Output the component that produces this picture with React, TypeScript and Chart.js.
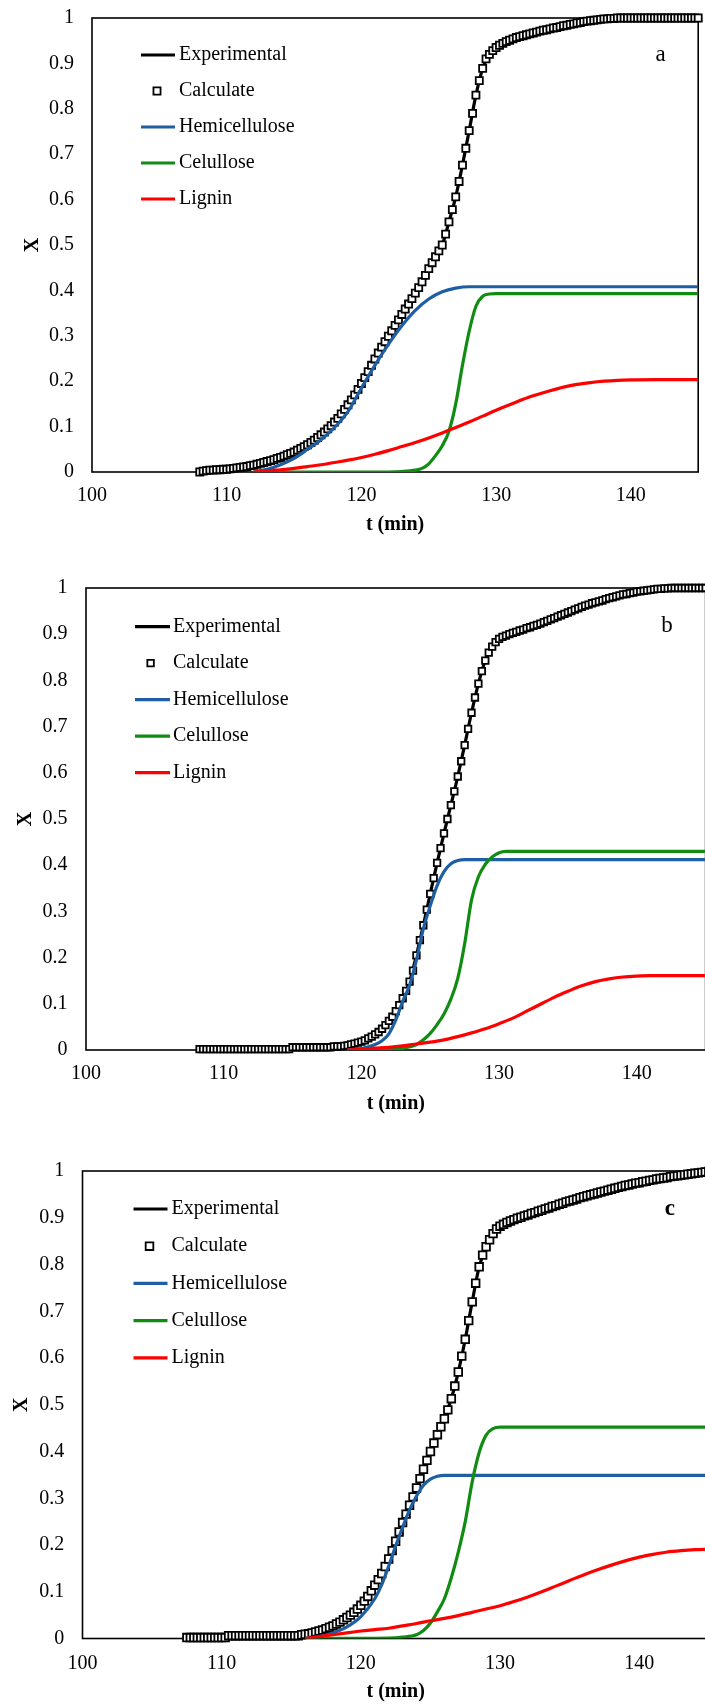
import React, { useEffect, useRef } from "react";
import { Chart, registerables } from "chart.js";

Chart.register(...registerables);

const FONT = '"Liberation Serif", "Times New Roman", serif';

// ---------- shared ----------
const X_TICKS = [100, 110, 120, 130, 140];
const Y_TICKS = [0, 0.1, 0.2, 0.3, 0.4, 0.5, 0.6, 0.7, 0.8, 0.9, 1];
const SERIES_LABELS = ["Experimental", "Calculate", "Hemicellulose", "Celullose", "Lignin"];
const COLOR_EXP = "#000000";
const COLOR_HEMI = "#1E5FA3";
const COLOR_CEL = "#108C12";
const COLOR_LIG = "#FF0000";
const CALC_STEP = 0.25;
const EXP_STEP = 0.5;

// ---------- panel a ----------
const A_CALC_START = 108;
const A_CALC = [
  0.000, 0.002, 0.003, 0.004,
  0.004, 0.005, 0.005, 0.006,
  0.006, 0.007, 0.008, 0.009,
  0.010, 0.011, 0.012, 0.014,
  0.015, 0.017, 0.019, 0.021,
  0.023, 0.025, 0.027, 0.030,
  0.032, 0.035, 0.038, 0.041,
  0.044, 0.048, 0.052, 0.056,
  0.060, 0.065, 0.070, 0.076,
  0.082, 0.088, 0.095, 0.102,
  0.110, 0.118, 0.128, 0.138,
  0.148, 0.159, 0.170, 0.182,
  0.195, 0.208, 0.221, 0.235,
  0.249, 0.262, 0.275, 0.287,
  0.299, 0.311, 0.323, 0.335,
  0.347, 0.359, 0.370, 0.382,
  0.394, 0.406, 0.419, 0.433,
  0.448, 0.461, 0.474, 0.487,
  0.500, 0.524, 0.551, 0.578,
  0.606, 0.640, 0.676, 0.713,
  0.752, 0.790, 0.830, 0.862,
  0.889, 0.910, 0.920, 0.928,
  0.935, 0.940, 0.944, 0.948,
  0.951, 0.954, 0.957, 0.959,
  0.961, 0.963, 0.965, 0.967,
  0.969, 0.971, 0.973, 0.974,
  0.976, 0.978, 0.979, 0.981,
  0.983, 0.984, 0.986, 0.987,
  0.989, 0.990, 0.992, 0.993,
  0.994, 0.995, 0.996, 0.997,
  0.998, 0.998, 0.999, 0.999,
  1, 1, 1, 1,
  1, 1, 1, 1,
  1, 1, 1, 1,
  1, 1, 1, 1,
  1, 1, 1, 1,
  1, 1, 1, 1,
  1,
];
const A_EXP_START = 108;
const A_EXP = [
  0.000, 0.003, 0.004, 0.005, 0.006, 0.008, 0.010, 0.012, 0.015, 0.019,
  0.023, 0.027, 0.032, 0.038, 0.044, 0.052, 0.060, 0.070, 0.082, 0.095,
  0.110, 0.128, 0.148, 0.170, 0.195, 0.221, 0.249, 0.275, 0.299, 0.323,
  0.347, 0.370, 0.394, 0.419, 0.448, 0.474, 0.500, 0.551, 0.606, 0.676,
  0.752, 0.830, 0.889, 0.920, 0.935, 0.944, 0.951, 0.957, 0.961, 0.965,
  0.969, 0.973, 0.976, 0.979, 0.983, 0.986, 0.989, 0.992, 0.994, 0.996,
  0.998, 0.999, 1, 1, 1, 1, 1, 1, 1, 1, 1, 1, 1, 1, 1,
];
const A_HEMI_T = [112, 113, 114, 115, 116, 117, 118, 119, 120, 121, 122, 123, 124, 125, 126, 127, 128, 130, 145];
const A_HEMI = [0, 0.006, 0.016, 0.030, 0.050, 0.071, 0.098, 0.133, 0.185, 0.235, 0.281, 0.322, 0.356, 0.381, 0.397, 0.405, 0.408, 0.408, 0.408];
const A_CEL_T = [112, 118, 122, 123, 124, 124.5, 125, 125.5, 126, 126.5, 127, 127.5, 128, 128.5, 129, 129.5, 130, 145];
const A_CEL = [0, 0, 0, 0.001, 0.004, 0.008, 0.018, 0.036, 0.058, 0.090, 0.150, 0.235, 0.310, 0.365, 0.387, 0.392, 0.393, 0.393];
const A_LIG_T = [112, 113, 114, 115, 116, 117, 118, 119, 120, 121, 122, 123, 124, 125, 126, 127, 128, 129, 130, 131, 132, 133, 134, 135, 136, 137, 138, 139, 140, 142, 145];
const A_LIG = [0, 0.002, 0.005, 0.008, 0.012, 0.016, 0.021, 0.026, 0.032, 0.039, 0.047, 0.056, 0.065, 0.075, 0.086, 0.098, 0.110, 0.123, 0.136, 0.148, 0.160, 0.170, 0.179, 0.187, 0.193, 0.197, 0.200, 0.202, 0.203, 0.2035, 0.2035];

// ---------- panel b ----------
const B_CALC_START = 108.25;
const B_CALC = [
  0.002, 0.002, 0.002,
  0.002, 0.002, 0.002, 0.002,
  0.002, 0.002, 0.002, 0.002,
  0.002, 0.002, 0.002, 0.002,
  0.002, 0.002, 0.002, 0.002,
  0.002, 0.002, 0.002, 0.002,
  0.002, 0.002, 0.002, 0.002,
  0.006, 0.006, 0.006, 0.006,
  0.006, 0.006, 0.006, 0.006,
  0.006, 0.006, 0.006, 0.006,
  0.008, 0.008, 0.008, 0.009,
  0.010, 0.012, 0.014, 0.016,
  0.018, 0.021, 0.025, 0.029,
  0.034, 0.039, 0.046, 0.054,
  0.063, 0.072, 0.084, 0.097,
  0.112, 0.128, 0.148, 0.172,
  0.205, 0.238, 0.270, 0.304,
  0.338, 0.372, 0.405, 0.437,
  0.469, 0.500, 0.530, 0.560,
  0.592, 0.625, 0.660, 0.695,
  0.730, 0.763, 0.793, 0.820,
  0.843, 0.860, 0.873, 0.883,
  0.890, 0.894, 0.897, 0.900,
  0.903, 0.905, 0.908, 0.910,
  0.913, 0.915, 0.918, 0.920,
  0.923, 0.926, 0.929, 0.932,
  0.935, 0.938, 0.941, 0.944,
  0.947, 0.950, 0.953, 0.956,
  0.959, 0.962, 0.964, 0.967,
  0.969, 0.971, 0.973, 0.976,
  0.978, 0.980, 0.982, 0.984,
  0.986, 0.987, 0.989, 0.990,
  0.992, 0.993, 0.994, 0.995,
  0.996, 0.997, 0.998, 0.998,
  0.999, 0.999, 1, 1,
  1, 1, 1, 1,
  1, 1, 1, 1,
  1,
];
const B_EXP_START = 108.5;
const B_EXP = [
  0.002, 0.002, 0.002, 0.002, 0.002, 0.002, 0.002, 0.002, 0.002, 0.002,
  0.002, 0.002, 0.002, 0.006, 0.006, 0.006, 0.006, 0.006, 0.006, 0.008,
  0.008, 0.010, 0.014, 0.018, 0.025, 0.034, 0.046, 0.063, 0.084, 0.112,
  0.148, 0.205, 0.270, 0.338, 0.405, 0.469, 0.530, 0.592, 0.660, 0.730,
  0.793, 0.843, 0.873, 0.890, 0.897, 0.903, 0.908, 0.913, 0.918, 0.923,
  0.929, 0.935, 0.941, 0.947, 0.953, 0.959, 0.964, 0.969, 0.973, 0.978,
  0.982, 0.986, 0.989, 0.992, 0.994, 0.996, 0.998, 0.999, 1, 1,
  1, 1, 1, 1,
];
const B_HEMI_T = [119, 120, 121, 121.5, 122, 122.5, 123, 123.5, 124, 124.5, 125, 125.5, 126, 126.5, 127, 127.5, 145];
const B_HEMI = [0, 0.003, 0.012, 0.020, 0.035, 0.065, 0.105, 0.140, 0.195, 0.262, 0.312, 0.356, 0.386, 0.403, 0.410, 0.412, 0.412];
const B_CEL_T = [119, 122, 123, 124, 124.5, 125, 125.5, 126, 126.5, 127, 127.5, 128, 128.5, 129, 129.5, 130, 130.5, 145];
const B_CEL = [0, 0.001, 0.004, 0.012, 0.022, 0.036, 0.055, 0.078, 0.110, 0.155, 0.230, 0.325, 0.375, 0.402, 0.418, 0.427, 0.430, 0.430];
const B_LIG_T = [119, 120, 121, 122, 123, 124, 125, 126, 127, 128, 129, 130, 131, 132, 133, 134, 135, 136, 137, 138, 139, 140, 141, 145];
const B_LIG = [0, 0.002, 0.004, 0.006, 0.009, 0.013, 0.017, 0.022, 0.029, 0.037, 0.046, 0.057, 0.069, 0.084, 0.099, 0.114, 0.127, 0.139, 0.148, 0.154, 0.158, 0.160, 0.161, 0.161];

// ---------- panel c ----------
const C_CALC_START = 107.5;
const C_CALC = [
  0.002, 0.002,
  0.002, 0.002, 0.002, 0.002,
  0.002, 0.002, 0.002, 0.002,
  0.002, 0.002, 0.006, 0.006,
  0.006, 0.006, 0.006, 0.006,
  0.006, 0.006, 0.006, 0.006,
  0.006, 0.006, 0.006, 0.006,
  0.006, 0.006, 0.006, 0.006,
  0.006, 0.006, 0.006, 0.008,
  0.009, 0.010, 0.012, 0.014,
  0.016, 0.018, 0.021, 0.024,
  0.027, 0.031, 0.035, 0.040,
  0.045, 0.050, 0.056, 0.063,
  0.071, 0.080, 0.090, 0.102,
  0.114, 0.126, 0.139, 0.154,
  0.170, 0.188, 0.208, 0.228,
  0.248, 0.266, 0.285, 0.303,
  0.322, 0.342, 0.362, 0.381,
  0.400, 0.418, 0.436, 0.453,
  0.470, 0.489, 0.513, 0.540,
  0.570, 0.604, 0.640, 0.680,
  0.720, 0.760, 0.795, 0.820,
  0.838, 0.853, 0.866, 0.876,
  0.882, 0.886, 0.890, 0.893,
  0.896, 0.899, 0.901, 0.904,
  0.906, 0.909, 0.911, 0.914,
  0.916, 0.919, 0.921, 0.924,
  0.926, 0.929, 0.931, 0.934,
  0.936, 0.938, 0.940, 0.943,
  0.945, 0.947, 0.949, 0.951,
  0.953, 0.955, 0.957, 0.959,
  0.961, 0.963, 0.965, 0.967,
  0.969, 0.970, 0.972, 0.974,
  0.975, 0.977, 0.978, 0.980,
  0.981, 0.983, 0.984, 0.985,
  0.986, 0.988, 0.989, 0.990,
  0.991, 0.992, 0.993, 0.994,
  0.995, 0.996, 0.997, 0.998,
  0.999,
];
const C_EXP_START = 107.5;
const C_EXP = [
  0.002, 0.002, 0.002, 0.002, 0.002, 0.002, 0.006, 0.006, 0.006, 0.006,
  0.006, 0.006, 0.006, 0.006, 0.006, 0.006, 0.006, 0.009, 0.012, 0.016,
  0.021, 0.027, 0.035, 0.045, 0.056, 0.071, 0.090, 0.114, 0.139, 0.170,
  0.208, 0.248, 0.285, 0.322, 0.362, 0.400, 0.436, 0.470, 0.513, 0.570,
  0.640, 0.720, 0.795, 0.838, 0.866, 0.882, 0.890, 0.896, 0.901, 0.906,
  0.911, 0.916, 0.921, 0.926, 0.931, 0.936, 0.940, 0.945, 0.949, 0.953,
  0.957, 0.961, 0.965, 0.969, 0.972, 0.975, 0.978, 0.981, 0.984, 0.986,
  0.989, 0.991, 0.993, 0.995, 0.997, 0.999,
];
const C_HEMI_T = [116, 117, 118, 119, 120, 121, 121.5, 122, 122.5, 123, 123.5, 124, 124.5, 125, 125.5, 126, 145];
const C_HEMI = [0, 0.004, 0.012, 0.025, 0.047, 0.085, 0.115, 0.155, 0.198, 0.238, 0.275, 0.305, 0.328, 0.341, 0.347, 0.349, 0.349];
const C_CEL_T = [116, 122, 123, 124, 124.5, 125, 125.5, 126, 126.5, 127, 127.5, 128, 128.5, 129, 129.5, 130, 145];
const C_CEL = [0, 0.001, 0.003, 0.008, 0.017, 0.033, 0.057, 0.085, 0.130, 0.185, 0.250, 0.335, 0.398, 0.435, 0.449, 0.452, 0.452];
const C_LIG_T = [116, 117, 118, 119, 120, 121, 122, 123, 124, 125, 126, 127, 128, 129, 130, 131, 132, 133, 134, 135, 136, 137, 138, 139, 140, 141, 142, 143, 144, 145];
const C_LIG = [0, 0.004, 0.008, 0.012, 0.016, 0.019, 0.022, 0.027, 0.032, 0.038, 0.043, 0.049, 0.056, 0.063, 0.070, 0.079, 0.089, 0.100, 0.112, 0.124, 0.136, 0.147, 0.157, 0.166, 0.174, 0.180, 0.185, 0.188, 0.190, 0.191];

// panel letter position (data coords)
const LETTER_T = 142.2;
const LETTER_X = 0.918;

// ---------- helpers ----------
function sampled(start: number, step: number, vals: number[]) {
  return vals.map((y, i) => ({ x: start + i * step, y }));
}
function paired(ts: number[], ys: number[]) {
  return ts.map((x, i) => ({ x, y: ys[i] }));
}

type Panel = {
  letter: string;
  letterBold: boolean;
  canvasTop: number;
  canvasWidth: number;
  canvasHeight: number;
  yAxisWidth: number;
  padTop: number;
  padRight: number;
  xAxisHeight: number;
  yTickPad: number;
  yTitlePad: number;
  xTickPad: number;
  xTitlePad: number;
  pointR: number;
  legendTop: number;
  legendGap: number;
  legendLineX0: number;
  legendLineX1: number;
  legendTextX: number;
  legendMarkX: number;
  calcStart: number;
  calc: number[];
  expStart: number;
  exp: number[];
  hemiT: number[];
  hemi: number[];
  celT: number[];
  cel: number[];
  ligT: number[];
  lig: number[];
};

const PANELS: Panel[] = [
  {
    letter: "a", letterBold: false,
    canvasTop: 0, canvasWidth: 705, canvasHeight: 560,
    yAxisWidth: 92, padTop: 18, padRight: 3, xAxisHeight: 88,
    yTickPad: 18, yTitlePad: 21, xTickPad: 12, xTitlePad: 23,
    pointR: 5.0,
    legendTop: 37, legendGap: 36, legendLineX0: 49, legendLineX1: 83, legendTextX: 87, legendMarkX: 65,
    calcStart: A_CALC_START, calc: A_CALC, expStart: A_EXP_START, exp: A_EXP,
    hemiT: A_HEMI_T, hemi: A_HEMI, celT: A_CEL_T, cel: A_CEL, ligT: A_LIG_T, lig: A_LIG,
  },
  {
    letter: "b", letterBold: false,
    canvasTop: 560, canvasWidth: 712, canvasHeight: 570,
    yAxisWidth: 86, padTop: 28, padRight: 5.5, xAxisHeight: 80,
    yTickPad: 18.5, yTitlePad: 13.6, xTickPad: 12, xTitlePad: 14,
    pointR: 4.6,
    legendTop: 38.6, legendGap: 36.5, legendLineX0: 49, legendLineX1: 84, legendTextX: 87, legendMarkX: 64.6,
    calcStart: B_CALC_START, calc: B_CALC, expStart: B_EXP_START, exp: B_EXP,
    hemiT: B_HEMI_T, hemi: B_HEMI, celT: B_CEL_T, cel: B_CEL, ligT: B_LIG_T, lig: B_LIG,
  },
  {
    letter: "c", letterBold: true,
    canvasTop: 1130, canvasWidth: 716, canvasHeight: 576,
    yAxisWidth: 82.5, padTop: 41, padRight: 5.5, xAxisHeight: 67.5,
    yTickPad: 18.2, yTitlePad: 9.6, xTickPad: 12.9, xTitlePad: 2,
    pointR: 5.4,
    legendTop: 38, legendGap: 37.2, legendLineX0: 51, legendLineX1: 85, legendTextX: 89, legendMarkX: 67,
    calcStart: C_CALC_START, calc: C_CALC, expStart: C_EXP_START, exp: C_EXP,
    hemiT: C_HEMI_T, hemi: C_HEMI, celT: C_CEL_T, cel: C_CEL, ligT: C_LIG_T, lig: C_LIG,
  },
];

const decorPlugin = {
  id: "decor",
  beforeDatasetsDraw(chart: any) {
    const { ctx, chartArea: a } = chart;
    ctx.save();
    ctx.strokeStyle = "#000";
    ctx.lineWidth = 1.6;
    ctx.strokeRect(a.left, a.top, a.right - a.left, a.bottom - a.top);
    ctx.restore();
  },
  afterDatasetsDraw(chart: any, _args: any, opts: any) {
    const p: Panel = opts.panel;
    if (!p) return;
    const { ctx, chartArea: a } = chart;
    ctx.save();
    ctx.font = `20px ${FONT}`;
    ctx.textBaseline = "middle";
    ctx.textAlign = "left";
    chart.data.datasets.forEach((ds: any, i: number) => {
      const y = a.top + p.legendTop + i * p.legendGap;
      if (ds.showLine === false) {
        const s = p.pointR * Math.SQRT2;
        ctx.fillStyle = "#fff";
        ctx.strokeStyle = "#000";
        ctx.lineWidth = 1.8;
        ctx.beginPath();
        ctx.rect(a.left + p.legendMarkX - s / 2, y - s / 2, s, s);
        ctx.fill();
        ctx.stroke();
      } else {
        ctx.strokeStyle = ds.borderColor;
        ctx.lineWidth = 3.2;
        ctx.beginPath();
        ctx.moveTo(a.left + p.legendLineX0, y);
        ctx.lineTo(a.left + p.legendLineX1, y);
        ctx.stroke();
      }
      ctx.fillStyle = "#000";
      ctx.fillText(ds.label, a.left + p.legendTextX, y);
    });
    const lx = chart.scales.x.getPixelForValue(LETTER_T);
    const ly = chart.scales.y.getPixelForValue(LETTER_X);
    ctx.font = `${p.letterBold ? "bold " : ""}23px ${FONT}`;
    ctx.textAlign = "center";
    ctx.fillText(p.letter, lx, ly);
    ctx.restore();
  },
};

function PanelChart({ p }: { p: Panel }) {
  const ref = useRef<HTMLCanvasElement | null>(null);
  useEffect(() => {
    if (!ref.current) return;
    const lineBase = {
      showLine: true,
      pointRadius: 0,
      pointHoverRadius: 0,
      borderWidth: 3.2,
      cubicInterpolationMode: "monotone" as const,
      fill: false,
    };
    const tickFont = { family: FONT, size: 20 };
    const titleFont = { family: FONT, size: 20, weight: "bold" as const };
    const chart = new Chart(ref.current, {
      type: "scatter",
      data: {
        datasets: [
          { ...lineBase, label: SERIES_LABELS[0], data: sampled(p.expStart, EXP_STEP, p.exp), borderColor: COLOR_EXP, backgroundColor: COLOR_EXP, order: 5 },
          {
            label: SERIES_LABELS[1],
            data: sampled(p.calcStart, CALC_STEP, p.calc),
            showLine: false,
            pointStyle: "rect",
            pointRadius: p.pointR,
            pointHoverRadius: p.pointR,
            pointBackgroundColor: "#ffffff",
            pointBorderColor: "#000000",
            pointBorderWidth: 1.8,
            backgroundColor: "#ffffff",
            borderColor: "#000000",
            clip: false,
            order: 4,
          },
          { ...lineBase, label: SERIES_LABELS[2], data: paired(p.hemiT, p.hemi), borderColor: COLOR_HEMI, backgroundColor: COLOR_HEMI, order: 3 },
          { ...lineBase, label: SERIES_LABELS[3], data: paired(p.celT, p.cel), borderColor: COLOR_CEL, backgroundColor: COLOR_CEL, order: 2 },
          { ...lineBase, label: SERIES_LABELS[4], data: paired(p.ligT, p.lig), borderColor: COLOR_LIG, backgroundColor: COLOR_LIG, order: 1 },
        ] as any,
      },
      options: {
        responsive: false,
        animation: false,
        devicePixelRatio: 1,
        events: [],
        layout: { padding: { left: 0, top: p.padTop, right: p.padRight, bottom: 0 } },
        plugins: {
          legend: { display: false },
          tooltip: { enabled: false },
          decor: { panel: p },
        } as any,
        scales: {
          x: {
            type: "linear",
            min: 100,
            max: 145,
            afterBuildTicks: (s: any) => {
              s.ticks = X_TICKS.map((v) => ({ value: v }));
            },
            afterFit: (s: any) => {
              s.height = p.xAxisHeight;
              s.paddingLeft = 0;
              s.paddingRight = 0;
            },
            ticks: {
              padding: p.xTickPad,
              color: "#000",
              font: tickFont,
              maxRotation: 0,
              autoSkip: false,
              callback: (v: any) => String(v),
            },
            grid: { display: false, drawTicks: false },
            border: { display: false },
            title: {
              display: true,
              text: "t (min)",
              color: "#000",
              font: titleFont,
              padding: { top: 0, bottom: p.xTitlePad },
            },
          },
          y: {
            type: "linear",
            min: 0,
            max: 1,
            afterBuildTicks: (s: any) => {
              s.ticks = Y_TICKS.map((v) => ({ value: v }));
            },
            afterFit: (s: any) => {
              s.width = p.yAxisWidth;
              s.paddingTop = 0;
              s.paddingBottom = 0;
            },
            ticks: {
              padding: p.yTickPad,
              color: "#000",
              font: tickFont,
              autoSkip: false,
              callback: (v: any) => String(v),
            },
            grid: { display: false, drawTicks: false },
            border: { display: false },
            title: {
              display: true,
              text: "X",
              color: "#000",
              font: titleFont,
              padding: { top: p.yTitlePad, bottom: 0 },
            },
          },
        } as any,
      },
      plugins: [decorPlugin as any],
    });
    return () => chart.destroy();
  }, [p]);
  return (
    <canvas
      ref={ref}
      width={p.canvasWidth}
      height={p.canvasHeight}
      style={{
        position: "absolute",
        left: 0,
        top: p.canvasTop,
        width: p.canvasWidth,
        height: p.canvasHeight,
        display: "block",
      }}
    />
  );
}

export default function App() {
  return (
    <div
      style={{
        position: "absolute",
        left: 0,
        top: 0,
        width: 705,
        height: 1706,
        overflow: "hidden",
        background: "#ffffff",
      }}
    >
      {PANELS.map((p) => (
        <PanelChart key={p.letter} p={p} />
      ))}
    </div>
  );
}
